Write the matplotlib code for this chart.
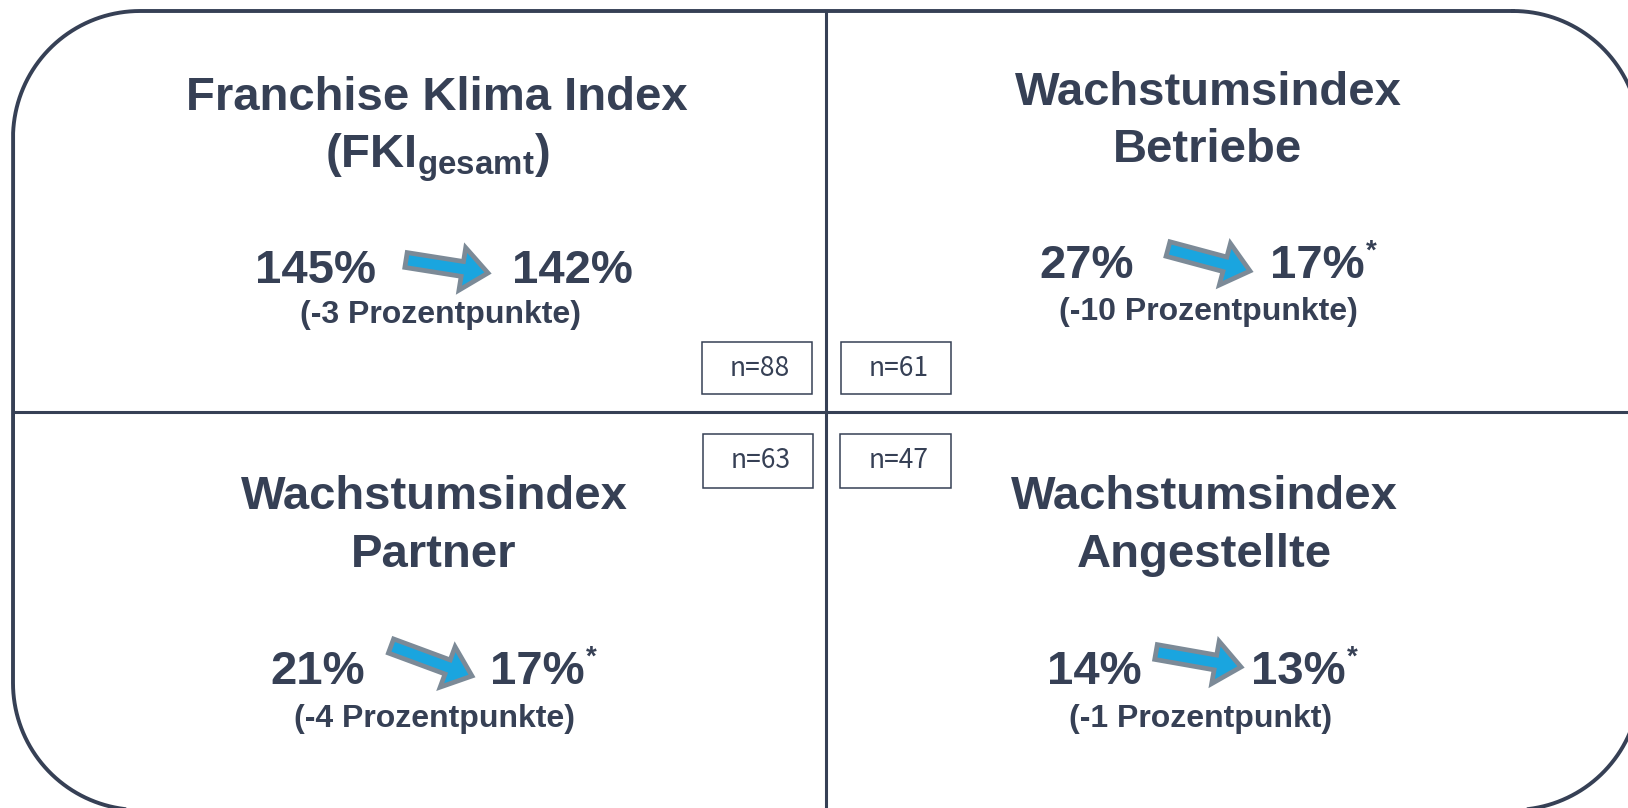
import numpy as np
import matplotlib.pyplot as plt
from matplotlib.patches import FancyArrow, Rectangle

# data
titles = [("Franchise Klima Index", r"(FKI$_{\mathbf{gesamt}}$)"),
          ("Wachstumsindex", "Betriebe"),
          ("Wachstumsindex", "Partner"),
          ("Wachstumsindex", "Angestellte")]
values_before = [145, 27, 21, 14]
values_after = [142, 17, 17, 13]
change_labels = ["(-3 Prozentpunkte)", "(-10 Prozentpunkte)",
                 "(-4 Prozentpunkte)", "(-1 Prozentpunkt)"]
starred = [False, True, True, True]
sample_sizes = [88, 61, 63, 47]

# layout (pixel units, y downwards)
title_x = [437, 1208, 434, 1204]
title_y = [(110, 167), (105, 162), (509, 567), (509, 567)]
before_x = [316, 1087, 318, 1094]
after_x = [572, 1317, 537, 1298]
num_y = [283, 278, 684, 684]
sub_x = [441, 1208, 434, 1201]
sub_y = [323, 320, 727, 727]
arrows = [((406, 260), (488, 273)), ((1168, 249), (1250, 271)),
          ((391, 646), (472, 676)), ((1156, 652), (1241, 667))]
nboxes = [(702, 342, 110, 52), (841, 342, 110, 52),
          (703, 434, 110, 54), (840, 434, 111, 54)]

dark = "#364055"
plt.rcParams['font.family'] = ['Liberation Sans', 'DejaVu Sans']
plt.rcParams['mathtext.fontset'] = 'custom'
plt.rcParams['mathtext.rm'] = 'Liberation Sans:bold'
plt.rcParams['mathtext.bf'] = 'Liberation Sans:bold'

fig = plt.figure(figsize=(16.28, 8.08), dpi=100)
ax = fig.add_axes([0, 0, 1, 1])
ax.set_xlim(0, 1628)
ax.set_ylim(808, 0)
ax.axis('off')

# outer rounded frame
left, top, right, bottom, r = 13, 11, 1640, 810, 127
pts = []
for cx, cy, a0 in [(right - r, top + r, -90), (right - r, bottom - r, 0),
                   (left + r, bottom - r, 90), (left + r, top + r, 180)]:
    a = np.radians(np.linspace(a0, a0 + 90, 40))
    pts += list(zip(cx + r * np.cos(a), cy + r * np.sin(a)))
pts.append(pts[0])
fx, fy = zip(*pts)
ax.plot(fx, fy, color=dark, lw=2.8, solid_joinstyle='round')

# dividers
ax.plot([826, 826], [11, 810], color=dark, lw=2.2)
ax.plot([13, 1640], [412, 412], color=dark, lw=2.2)

for i in range(4):
    for line, y in zip(titles[i], title_y[i]):
        ax.text(title_x[i], y, line, ha='center', va='baseline',
                fontsize=34, fontweight='bold', color=dark)
    ax.text(before_x[i], num_y[i], f"{values_before[i]}%", ha='center',
            va='baseline', fontsize=34, fontweight='bold', color=dark)
    t = ax.text(after_x[i], num_y[i], f"{values_after[i]}%", ha='center',
                va='baseline', fontsize=34, fontweight='bold', color=dark)
    if starred[i]:
        ax.annotate("*", xy=(1, 1), xycoords=t, xytext=(1, 4),
                    textcoords='offset points', ha='left', va='top',
                    fontsize=20, fontweight='bold', color=dark)
    ax.text(sub_x[i], sub_y[i], change_labels[i], ha='center', va='baseline',
            fontsize=23, fontweight='bold', color=dark)

    (x0, y0), (x1, y1) = arrows[i]
    ax.add_patch(FancyArrow(x0, y0, x1 - x0, y1 - y0, width=15, head_width=43,
                            head_length=26, length_includes_head=True,
                            fc='#1aa5df', ec='#7c8a97', lw=3.4))

    bx, by, bw, bh = nboxes[i]
    ax.add_patch(Rectangle((bx, by), bw, bh, fc='white', ec=dark, lw=1.1))
    ax.text(bx + bw / 2 + 3, by + bh / 2, f"n={sample_sizes[i]}", ha='center',
            va='center', fontsize=19, color=dark,
            family=['Noto Sans CJK JP', 'DejaVu Sans'])

fig.savefig("out.png", dpi=100)
